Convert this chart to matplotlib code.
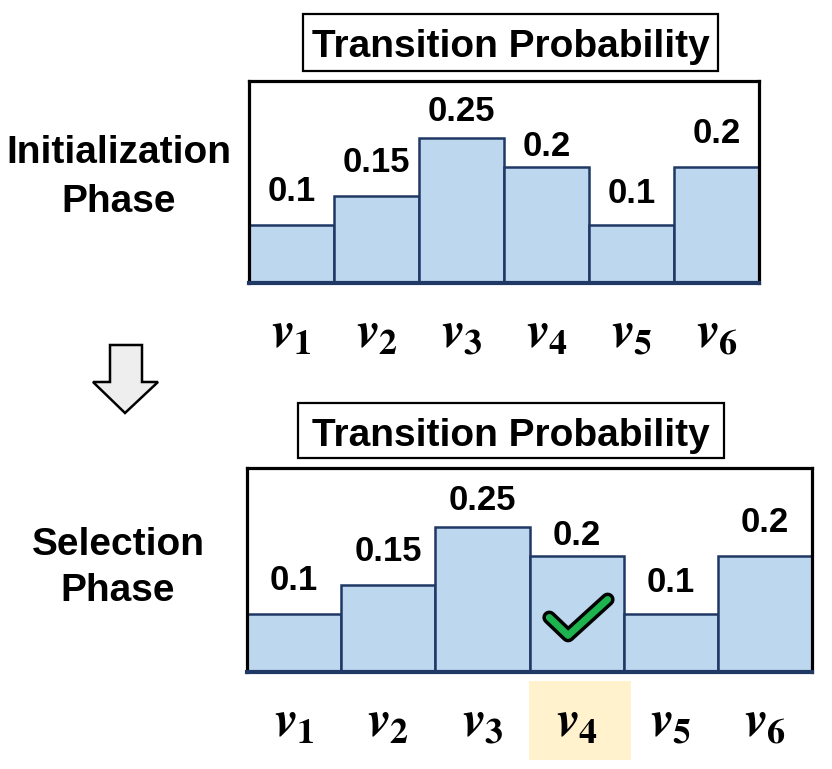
import matplotlib
matplotlib.use("Agg")
import matplotlib.pyplot as plt
from matplotlib.patches import Rectangle, Polygon

plt.rcParams['font.family'] = ['Liberation Sans', 'DejaVu Sans']
plt.rcParams['font.weight'] = 'bold'
plt.rcParams['mathtext.fontset'] = 'custom'
plt.rcParams['mathtext.it'] = 'STIXGeneral:italic:bold'
plt.rcParams['mathtext.rm'] = 'STIXGeneral:bold'
plt.rcParams['mathtext.bf'] = 'STIXGeneral:bold'

# ---------------- data ----------------
categories = [r'$v_{1}$', r'$v_{2}$', r'$v_{3}$', r'$v_{4}$', r'$v_{5}$', r'$v_{6}$']
probabilities = [0.1, 0.15, 0.25, 0.2, 0.1, 0.2]
value_labels = ['0.1', '0.15', '0.25', '0.2', '0.1', '0.2']
panel_titles = ['Transition Probability', 'Transition Probability']
phase_names = [['Initialization', 'Phase'], ['Selection', 'Phase']]
selected_index = 3

# ---------------- layout / style ----------------
W, H = 832, 769
PX_PER_UNIT = 580.0
label_gap_px = [24, 24, 17, 11, 22, 24]
BAR_FILL = '#BDD7EE'
BAR_EDGE = '#203864'
HILITE = '#FFF2CC'
GREEN = '#1DB34F'

fig = plt.figure(figsize=(W / 100, H / 100), dpi=100)


def fx(px):
    return px / W


def fy(py):
    return 1 - py / H


def panel(left, right, top, bottom):
    ax = fig.add_axes([fx(left), fy(bottom), fx(right - left), (bottom - top) / H])
    ax.set_xlim(-0.5, len(probabilities) - 0.5)
    ax.set_ylim(0, (bottom - top) / PX_PER_UNIT)
    x = list(range(len(probabilities)))
    ax.bar(x, probabilities, width=1.0, color=BAR_FILL, edgecolor=BAR_EDGE,
           linewidth=1.8, zorder=2)
    for i, (v, lab) in enumerate(zip(probabilities, value_labels)):
        ax.text(i, v + label_gap_px[i] / PX_PER_UNIT, lab, ha='center', va='baseline',
                fontsize=25, fontweight='bold', zorder=3)
    for i, c in enumerate(categories):
        ax.text(i, -0.111, c, ha='center', va='baseline', fontsize=37,
                clip_on=False, zorder=3)
    ax.set_xticks([])
    ax.set_yticks([])
    for s in ['top', 'left', 'right']:
        ax.spines[s].set_linewidth(2.3)
        ax.spines[s].set_color('black')
    ax.spines['bottom'].set_linewidth(3.0)
    ax.spines['bottom'].set_color(BAR_EDGE)
    for s in ax.spines.values():
        s.set_zorder(4)
    return ax


def title_box(left, right, top, bottom, baseline, text):
    fig.patches.append(Rectangle((fx(left), fy(bottom)), fx(right - left), (bottom - top) / H,
                                 transform=fig.transFigure, facecolor='white',
                                 edgecolor='black', linewidth=1.6))
    fig.text(fx((left + right) / 2), fy(baseline), text, ha='center', va='baseline',
             fontsize=28, fontweight='bold')


# top panel
ax1 = panel(249, 759, 81, 283)
title_box(303, 718, 14, 71, 57, panel_titles[0])
fig.text(fx(119), fy(163), phase_names[0][0], ha='center', va='baseline', fontsize=28, fontweight='bold')
fig.text(fx(119), fy(212), phase_names[0][1], ha='center', va='baseline', fontsize=28, fontweight='bold')

# bottom panel
ax2 = panel(247, 812, 468, 672)
title_box(298, 724, 403, 458, 446, panel_titles[1])
fig.text(fx(118), fy(555), phase_names[1][0], ha='center', va='baseline', fontsize=28, fontweight='bold')
fig.text(fx(118), fy(601), phase_names[1][1], ha='center', va='baseline', fontsize=28, fontweight='bold')

# highlight behind selected label
ax2.add_patch(Rectangle((selected_index - 0.51, -0.152), 1.09, 0.137, facecolor=HILITE,
                        edgecolor='none', clip_on=False, zorder=1))

# check mark on selected bar
cx = [selected_index - 0.29, selected_index - 0.09, selected_index + 0.33]
cy = [0.094, 0.063, 0.125]
ax2.plot(cx, cy, color='black', linewidth=10.0, solid_capstyle='round',
         solid_joinstyle='round', zorder=5)
ax2.plot(cx, cy, color=GREEN, linewidth=5.0, solid_capstyle='round',
         solid_joinstyle='round', zorder=6)

# down arrow between panels
arrow_px = [(110, 345), (142, 345), (142, 382), (158, 382), (125, 413), (93, 382), (110, 382)]
fig.patches.append(Polygon([(fx(a), fy(b)) for a, b in arrow_px], closed=True,
                           transform=fig.transFigure, facecolor='#EEEEEE',
                           edgecolor='black', linewidth=1.8, joinstyle='miter'))

fig.savefig('out.png', dpi=100)
